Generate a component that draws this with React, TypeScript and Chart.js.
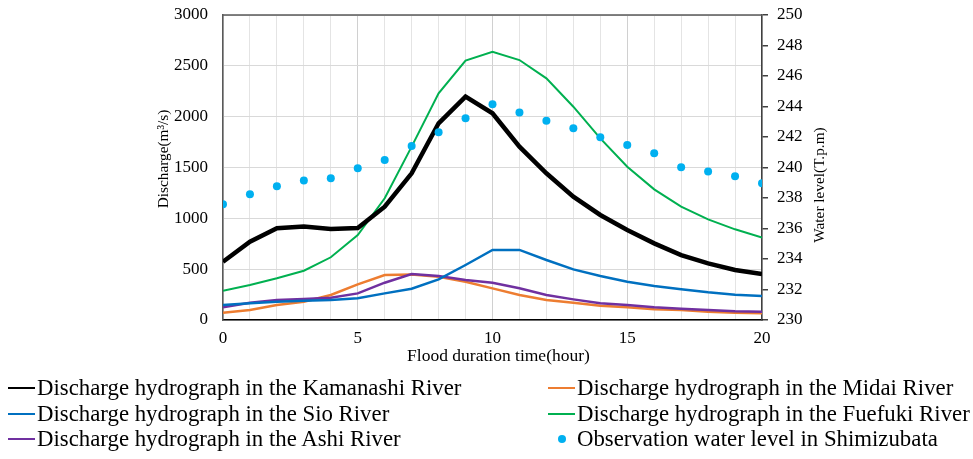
import React, { useEffect, useRef } from "react";
import { Chart, registerables } from "chart.js";

Chart.register(...registerables);

const hours = [0, 1, 2, 3, 4, 5, 6, 7, 8, 9, 10, 11, 12, 13, 14, 15, 16, 17, 18, 19, 20];
const kamanashi = [573, 770, 902, 920, 895, 905, 1115, 1443, 1935, 2197, 2033, 1705, 1443, 1213, 1033, 885, 754, 639, 557, 492, 452];
const midai = [72, 98, 148, 180, 246, 351, 443, 448, 426, 377, 311, 246, 197, 170, 141, 125, 105, 98, 82, 72, 66];
const sio = [148, 164, 180, 190, 197, 213, 262, 308, 400, 541, 689, 689, 590, 498, 433, 377, 334, 302, 272, 249, 236];
const fuefuki = [288, 344, 410, 485, 617, 836, 1197, 1705, 2230, 2551, 2639, 2557, 2377, 2098, 1787, 1508, 1285, 1115, 990, 892, 810];
const ashi = [125, 170, 197, 207, 219, 262, 367, 452, 433, 393, 367, 312, 246, 203, 164, 148, 125, 111, 98, 85, 82];
const waterLevel = [237.59, 238.24, 238.77, 239.14, 239.29, 239.95, 240.49, 241.41, 242.31, 243.23, 244.14, 243.6, 243.07, 242.57, 241.98, 241.48, 240.93, 240.01, 239.73, 239.42, 238.96];

const seriesNames = [
  "Discharge hydrograph in the Kamanashi River",
  "Discharge hydrograph in the Midai River",
  "Discharge hydrograph in the Sio River",
  "Discharge hydrograph in the Fuefuki River",
  "Discharge hydrograph in the Ashi River",
  "Observation water level in Shimizubata",
];
const colors = ["#000000", "#ED7D31", "#0070C0", "#00B050", "#7030A0", "#00B0F0"];

const xTitle = "Flood duration time(hour)";
const yTitle = "Discharge(m³/s)";
const y1Title = "Water level(T.p.m)";

const toXY = (arr: number[]) => hours.map((h, i) => ({ x: h, y: arr[i] }));

const FONT = "'Liberation Serif', 'Times New Roman', serif";

export default function App() {
  const ref = useRef<HTMLCanvasElement>(null);

  useEffect(() => {
    if (!ref.current) return;
    const decorations = {
      id: "decorations",
      afterDraw(chart: any) {
        const { ctx, chartArea } = chart;
        ctx.save();
        ctx.strokeStyle = "#595959";
        ctx.lineWidth = 1.5;
        ctx.beginPath();
        ctx.moveTo(chartArea.left, chartArea.top);
        ctx.lineTo(chartArea.right, chartArea.top);
        ctx.stroke();

        ctx.fillStyle = "#000";
        ctx.textAlign = "center";
        ctx.textBaseline = "middle";
        ctx.font = `17.5px ${FONT}`;
        ctx.fillText(xTitle, chartArea.left + (chartArea.right - chartArea.left) / 2 + 6, 356);

        ctx.font = `15.3px ${FONT}`;
        ctx.save();
        ctx.translate(164, 159);
        ctx.rotate(-Math.PI / 2);
        ctx.fillText(yTitle, 0, 0);
        ctx.restore();

        ctx.save();
        ctx.translate(820, 185);
        ctx.rotate(-Math.PI / 2);
        ctx.fillText(y1Title, 0, 0);
        ctx.restore();
        ctx.restore();
      },
    };
    const fitV = (w: number) => (s: any) => {
      s.width = w;
      s.paddingTop = 0;
      s.paddingBottom = 0;
    };
    const chart = new Chart(ref.current, {
      type: "line",
      data: {
        datasets: [
          { label: seriesNames[0], data: toXY(kamanashi), borderColor: colors[0], backgroundColor: colors[0], borderWidth: 4.5, pointRadius: 0, yAxisID: "y", order: 1 },
          { label: seriesNames[1], data: toXY(midai), borderColor: colors[1], backgroundColor: colors[1], borderWidth: 2.5, pointRadius: 0, yAxisID: "y", order: 5 },
          { label: seriesNames[2], data: toXY(sio), borderColor: colors[2], backgroundColor: colors[2], borderWidth: 2.5, pointRadius: 0, yAxisID: "y", order: 3 },
          { label: seriesNames[3], data: toXY(fuefuki), borderColor: colors[3], backgroundColor: colors[3], borderWidth: 2, pointRadius: 0, yAxisID: "y", order: 2 },
          { label: seriesNames[4], data: toXY(ashi), borderColor: colors[4], backgroundColor: colors[4], borderWidth: 2.5, pointRadius: 0, yAxisID: "y", order: 4 },
          { label: seriesNames[5], data: toXY(waterLevel), borderColor: colors[5], backgroundColor: colors[5], showLine: false, pointRadius: 4, pointBorderWidth: 0, yAxisID: "y1", order: 0 },
        ],
      },
      options: {
        responsive: false,
        animation: false,
        layout: { padding: { left: 150, right: 142, top: 15, bottom: 88 } },
        plugins: { legend: { display: false }, tooltip: { enabled: false } },
        scales: {
          x: {
            type: "linear",
            min: 0,
            max: 20,
            afterFit: (s: any) => { s.height = 51; s.paddingLeft = 0; s.paddingRight = 0; },
            ticks: {
              stepSize: 1,
              autoSkip: false,
              maxRotation: 0,
              padding: 8,
              color: "#000",
              font: { family: FONT, size: 17 },
              callback: (v: any) => (Number(v) % 5 === 0 ? String(v) : ""),
            },
            grid: {
              drawTicks: false,
              color: (c: any) => (c.tick && c.tick.value % 5 === 0 ? "#d0d0d0" : "#e4e4e4"),
              lineWidth: 1,
            },
            border: { color: "#000", width: 1.5 },
          },
          y: {
            type: "linear",
            position: "left",
            min: 0,
            max: 3000,
            afterFit: fitV(73),
            ticks: { stepSize: 500, padding: 15, color: "#000", font: { family: FONT, size: 17 }, callback: (v: any) => String(v) },
            grid: { drawTicks: false, color: "#d9d9d9", lineWidth: 1 },
            border: { color: "#595959", width: 1.5 },
          },
          y1: {
            type: "linear",
            position: "right",
            min: 230,
            max: 250,
            afterFit: fitV(69),
            ticks: { stepSize: 2, padding: 9, color: "#000", font: { family: FONT, size: 17 }, callback: (v: any) => String(v) },
            grid: { drawOnChartArea: false, drawTicks: true, tickLength: 6, color: "#404040", lineWidth: 1.5 },
            border: { color: "#404040", width: 1.5 },
          },
        },
      },
      plugins: [decorations],
    } as any);
    return () => chart.destroy();
  }, []);

  const legendRows = [
    [0, 1],
    [2, 3],
    [4, 5],
  ];
  const rowY = [388, 414, 439];
  const colX = [8, 548];

  return (
    <div style={{ position: "fixed", left: 0, top: 0, width: 973, height: 459, background: "#fff" }}>
      <canvas ref={ref} width={973} height={459} style={{ width: 973, height: 459, display: "block" }} />
      {legendRows.map((row, r) =>
        row.map((idx, c) => (
          <div
            key={idx}
            style={{
              position: "absolute",
              left: colX[c],
              top: rowY[r] - 13,
              height: 26,
              display: "flex",
              alignItems: "center",
              fontFamily: FONT,
              fontSize: 22.8,
              color: "#000",
              whiteSpace: "nowrap",
            }}
          >
            {idx === 5 ? (
              <span style={{ width: 27, display: "flex", justifyContent: "center", marginRight: 2 }}>
                <span style={{ width: 8, height: 8, borderRadius: 4, background: colors[idx], display: "block" }} />
              </span>
            ) : (
              <span style={{ width: 27, height: 2, background: colors[idx], display: "block", marginRight: 2 }} />
            )}
            <span>{seriesNames[idx]}</span>
          </div>
        ))
      )}
    </div>
  );
}
